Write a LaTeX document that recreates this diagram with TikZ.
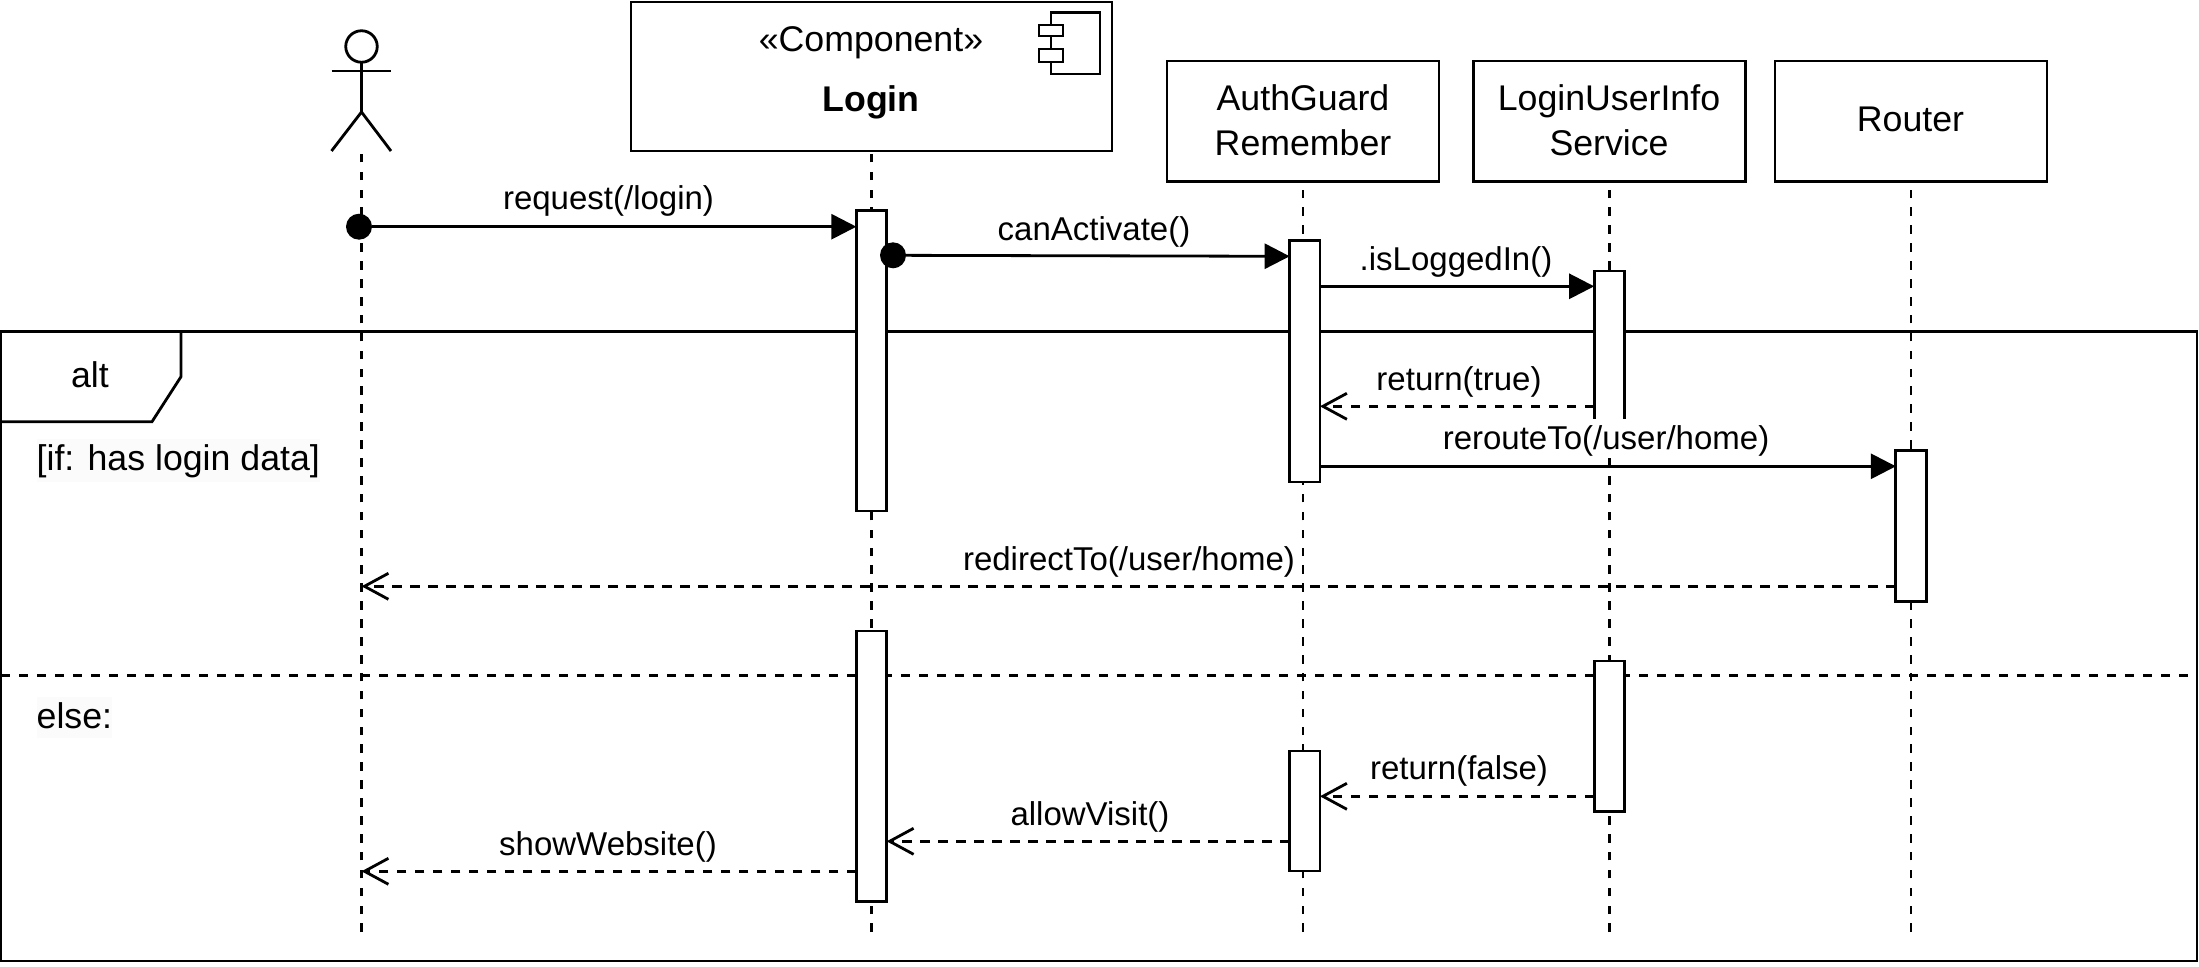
\documentclass[tikz,border=0pt]{standalone}
\usepackage{fontspec}
\setmainfont{Liberation Sans}
\usetikzlibrary{arrows.meta}
\tikzset{
  every node/.style={font=\fontsize{33}{38}\selectfont, outer sep=0pt, text=black},
  ln/.style={draw=black, line width=2.8pt},
  box/.style={ln, fill=white, rectangle, inner sep=0pt, minimum width=272pt, minimum height=120.7pt},
  act/.style={ln, fill=white, rectangle, inner sep=0pt, minimum width=30.3pt},
  life/.style={black, line width=2.8pt, dash pattern=on 8.6pt off 9.3pt},
  dashsep/.style={black, line width=3.2pt, dash pattern=on 9.4pt off 8.6pt},
  txt/.style={anchor=base, inner sep=0pt},
  big/.style={txt, font=\fontsize{35.7}{42}\selectfont},
  sync/.style={black, line width=2.8pt, -{Triangle[length=25pt,width=25pt]}},
  rep/.style={black, line width=3pt, dash pattern=on 9.4pt off 8.6pt, -{Straight Barb[length=24pt,width=26pt,line width=2.8pt]}},
  dot/.style={circle, fill=black, inner sep=0pt, minimum width=26pt, minimum height=26pt},
}
\begin{document}
\begin{tikzpicture}[x=1pt,y=-1pt]
\useasboundingbox (0,0) rectangle (2199,966);
% frame
\node[ln, rectangle, inner sep=0pt, minimum width=2196pt, minimum height=629.3pt] (frame) at (1099,646.35) {};
\draw[ln, line join=miter] (frame.north west -| 181,0) -- (181,376.7) -- (152,421.7) -- (frame.west |- 0,421.7);
\node[big] (altlab) at (90,387) {alt};
\draw[dashsep] (frame.west |- 0,675.5) -- (frame.east |- 0,675.5);
% header boxes
\node[ln, fill=white, rectangle, inner sep=0pt, minimum width=481pt, minimum height=149pt] (login) at (871.5,76.5) {};
\node[box] (guard) at (1303,121.35) {};
\node[box] (lui) at (1609.3,121.35) {};
\node[box] (router) at (1911,121.35) {};
\node[big] (t1) at (871,51.2) {«Component»};
\node[big, font=\fontsize{35.7}{42}\selectfont\bfseries] (t2) at (871,111.5) {Login};
\node[big] (t3) at (1303,110.7) {AuthGuard};
\node[big] (t4) at (1303,155.3) {Remember};
\node[big] (t5) at (1609,110.7) {LoginUserInfo};
\node[big] (t6) at (1609,155.3) {Service};
\node[big] (t7) at (1910.5,131.3) {Router};
% component icon
\draw[ln, fill=white] (1051,12.7) rectangle (1100,74);
\draw[ln, fill=white] (1039,25) rectangle (1063,36);
\draw[ln, fill=white] (1039,49) rectangle (1063,62);
% actor
\node[ln, circle, inner sep=0pt, minimum size=31.5pt] (head) at (361.5,46.5) {};
\coordinate (hip) at (361.5,112);
\coordinate (actfoot) at (361.5,151);
\draw[ln] (head.south) -- (hip);
\draw[ln] (331.5,71) -- (391,71);
\draw[ln] (331.5,151) -- (hip) -- (391,151);
% lifelines, drawn upwards so that each ends on a dash at the bottom
\draw[life] (361.5,932) -- (actfoot);
\draw[life] (login.south |- 0,932) -- (login.south);
\draw[life] (guard.south |- 0,932) -- (guard.south);
\draw[life] (lui.south |- 0,932) -- ([yshift=-8pt]lui.south);
\draw[life] (router.south |- 0,932) -- ([yshift=-8pt]router.south);
% activations
\node[act, minimum height=300.3pt] (aL1) at (871.5,360.85) {};
\node[act, minimum height=270.7pt] (aL2) at (871.5,766.35) {};
\node[act, minimum height=241.3pt] (aG1) at (1304.8,361.35) {};
\node[act, minimum height=120pt] (aG2) at (1304.8,811) {};
\node[act, minimum height=154pt] (aS1) at (1609.3,348) {};
\node[act, minimum height=150.7pt] (aS2) at (1609.3,736.35) {};
\node[act, minimum height=151pt] (aR) at (1911,526.2) {};
% messages
\node[dot] (d1) at (359,226.7) {};
\node[dot] (d2) at (893,255.3) {};
\draw[sync] (d1) -- (aL1.west |- d1);
\draw[sync] (d2) -- (aG1.west |- 0,256.3);
\draw[sync] (aG1.east |- 0,286.3) -- (aS1.west |- 0,286.3);
\draw[rep] (aS1.west |- 0,406.3) -- (aG1.east |- 0,406.3);
\draw[sync] (aG1.east |- 0,466.3) -- (aR.west |- 0,466.3);
\draw[rep] (aR.west |- 0,586.3) -- (actfoot |- 0,586.3);
\draw[rep] (aS2.west |- 0,796.3) -- (aG2.east |- 0,796.3);
\draw[rep] (aG2.west |- 0,841.3) -- (aL2.east |- 0,841.3);
\draw[rep] (aL2.west |- 0,871.3) -- (actfoot |- 0,871.3);
% labels
\node[txt] (m1) at (608.5,209.5) {request(/login)};
\node[txt] (m2) at (1094,240.2) {canActivate()};
\node[txt] (m3) at (1456,270.8) {.isLoggedIn()};
\node[txt] (m4) at (1459,390.5) {return(true)};
\node[txt, fill=white, text height=30pt, text depth=9pt] (m5) at (1606,449.3) {rerouteTo(/user/home)};
\node[txt] (m6) at (1129,570.3) {redirectTo(/user/home)};
\node[txt] (m7) at (1459,779.5) {return(false)};
\node[txt] (m8) at (1090,825.3) {allowVisit()};
\node[txt] (m9) at (608,855) {showWebsite()};
\node[anchor=base west, inner sep=0pt, font=\fontsize{35.7}{42}\selectfont, fill={rgb,255:red,251;green,251;blue,251}, text height=32pt, text depth=11pt] (g1) at (36.7,470.7) {[if: has login data]};
\node[anchor=base west, inner sep=0pt, font=\fontsize{35.7}{42}\selectfont, fill={rgb,255:red,251;green,251;blue,251}, text height=31pt, text depth=10pt] (g2) at (36.7,728.3) {else:};
\end{tikzpicture}
\end{document}
